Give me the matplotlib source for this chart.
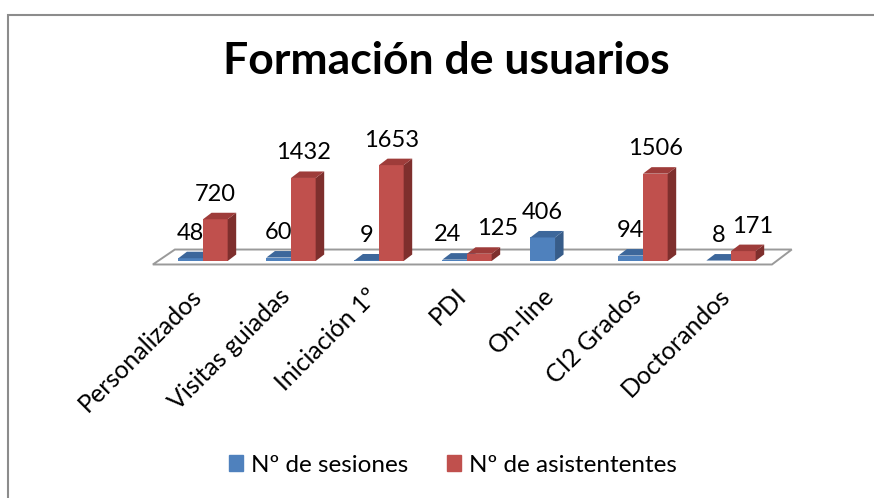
import matplotlib.pyplot as plt
from matplotlib.patches import Polygon, Rectangle, Patch
from matplotlib.transforms import ScaledTranslation

plt.rcParams['font.family'] = ['Lato', 'DejaVu Sans']

categories = ['Personalizados', 'Visitas guiadas', 'Iniciación 1º', 'PDI',
              'On-line', 'CI2 Grados', 'Doctorandos']
sesiones = [48, 60, 9, 24, 406, 94, 8]
asistentes = [720, 1432, 1653, 125, 0, 1506, 171]
series_names = ['Nº de sesiones', 'Nº de asistententes']

# sideways nudge of some value labels (points), as in the original layout
nudge_ses = [0, 0, 0, -5, 0, 0, 0]
nudge_asi = [0, 0, 0, 13, 0, 0, 7]

# colours: front, top, side
blue = ('#4F81BD', '#3D679B', '#375C89')
red = ('#C0504D', '#9E3C3A', '#7E2F2D')

bar_w = 0.28
dx = 0.097   # depth offset in category units
dv = 112     # depth offset in value units


def bar3d(ax, x0, val, cols):
    x1 = x0 + bar_w
    ax.bar(x0, val, width=bar_w, align='edge', color=cols[0], zorder=3)
    side = [(x1, 0), (x1 + dx, dv), (x1 + dx, val + dv), (x1, val)]
    top = [(x0, val), (x0 + dx, val + dv), (x1 + dx, val + dv), (x1, val)]
    ax.add_patch(Polygon(side, closed=True, fc=cols[2], ec='none', zorder=3))
    ax.add_patch(Polygon(top, closed=True, fc=cols[1], ec='none', zorder=3))


def label(ax, x, val, nudge):
    ax.annotate(str(val), (x, val), xytext=(nudge, 13.3), textcoords='offset points',
                ha='center', va='baseline', fontsize=17)


fig = plt.figure(figsize=(8.74, 4.98), dpi=100)
ax = fig.add_axes([0.1316, 0.4293, 0.8055, 0.3028])
n = len(categories)
ax.set_xlim(-1, n)
ax.set_ylim(-400, 2200)

# floor
floor = [(-0.57, -60), (-0.32, 198), (n - 0.31, 198), (n - 0.535, -60)]
ax.add_patch(Polygon(floor, closed=True, fc='white', ec='#9a9a9a', lw=1.4, zorder=1))

for i in range(n):
    if sesiones[i] > 0:
        bar3d(ax, i - bar_w, sesiones[i], blue)
        label(ax, i - bar_w / 2, sesiones[i], nudge_ses[i])
    if asistentes[i] > 0:
        bar3d(ax, i, asistentes[i], red)
        label(ax, i + bar_w / 2, asistentes[i], nudge_asi[i])

ax.set_xticks(range(n))
ax.set_xticklabels(categories, fontsize=18)
ax.tick_params(axis='x', length=0, pad=5.8)
shift = ScaledTranslation(-0.05, 0, fig.dpi_scale_trans)
for t in ax.get_xticklabels():
    t.set_rotation(45)
    t.set_ha('right')
    t.set_va('center')
    t.set_rotation_mode('anchor')
    t.set_transform(t.get_transform() + shift)
ax.set_yticks([])
for s in ax.spines.values():
    s.set_visible(False)
ax.patch.set_visible(False)

fig.text(0.511, 0.851, 'Formación de usuarios', ha='center', va='baseline',
         fontsize=32, fontweight='bold')

handles = [Patch(color=blue[0]), Patch(color=red[0])]
fig.legend(handles, series_names, loc='center', bbox_to_anchor=(0.518, 0.066), ncol=2,
           frameon=False, fontsize=17.5, handlelength=0.6, handleheight=0.6,
           handletextpad=0.3, columnspacing=1.6)

fig.add_artist(Rectangle((8 / 874, -0.1), 1.2, 0.97 + 0.1, transform=fig.transFigure,
                         fill=False, ec='#8c8c8c', lw=1.5))

fig.savefig('out.png', dpi=100)
